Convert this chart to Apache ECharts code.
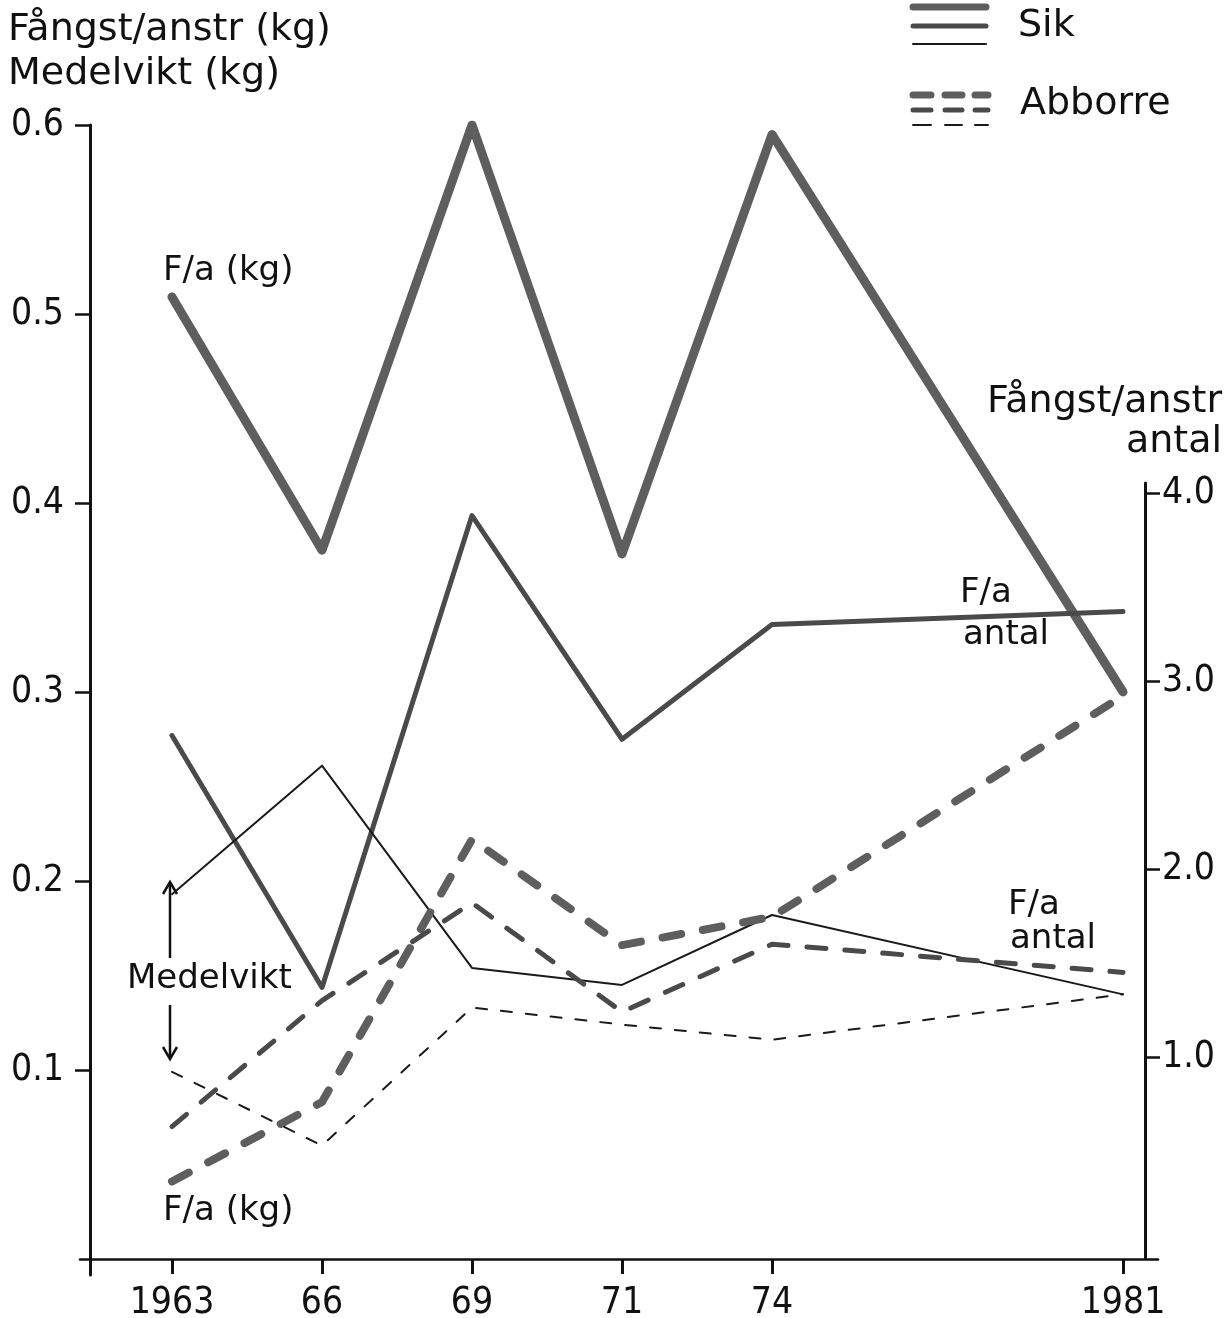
<!DOCTYPE html>
<html>
<head>
<meta charset="utf-8">
<script src="https://cdn.jsdelivr.net/npm/echarts@6/dist/echarts.min.js"></script>
<style>
html,body{margin:0;padding:0;background:#fff;}
#chart{width:1229px;height:1318px;}
</style>
</head>
<body>
<div id="chart"></div>
<script>
// ---- data ----
const categories = ['1963', '66', '69', '71', '74', '1981'];
// spacing of the categories along the original's x axis (1981 is further out)
const xSlots = [0, 1, 2, 3, 4, 6.34];
// Sik (whitefish)
const sikFaKg      = [0.509, 0.375, 0.600, 0.373, 0.595, 0.300]; // left axis, kg
const sikFaAntal   = [2.71, 1.37, 3.88, 2.69, 3.30, 3.37];       // right axis, antal
const sikMedelvikt = [0.193, 0.261, 0.154, 0.145, 0.182, 0.140]; // left axis, kg
// Abborre (perch)
const abbFaKg      = [0.041, 0.083, 0.222, 0.166, 0.181, 0.298];
const abbFaAntal   = [0.63, 1.30, 1.82, 1.24, 1.60, 1.45];
const abbMedelvikt = [0.099, 0.060, 0.133, 0.124, 0.116, 0.140];
// tick labels
const leftTicks  = [0.1, 0.2, 0.3, 0.4, 0.5, 0.6];
const rightTicks = [1, 2, 3, 4];

const pts = arr => categories.map((c, i) => [xSlots[i], arr[i]]);
const INK = '#111';
const labelFont = 'DejaVu Sans Condensed, DejaVu Sans, sans-serif';
const textFont = 'DejaVu Sans, sans-serif';

const chart = echarts.init(document.getElementById('chart'), null, {renderer: 'canvas'});

const xRange1 = {min: (80 - 172) / 150, max: (1158 - 172) / 150};
const xRange2 = {min: (80 - 172) / 150, max: (1145 - 172) / 150};

function lineSeries(name, arr, axis, width, color, dash) {
  return {
    name, type: 'line', data: pts(arr),
    xAxisIndex: axis, yAxisIndex: axis,
    symbol: 'none', silent: true,
    lineStyle: {width, color, type: dash || 'solid', cap: 'round', join: 'round'},
    z: 3
  };
}

function legendDashRow(y, w, color) {
  const segs = [[913, 931], [945, 962], [975, 988]];
  return segs.map(s => ({
    type: 'line', shape: {x1: s[0], y1: y, x2: s[1], y2: y},
    style: {stroke: color, lineWidth: w, lineCap: 'round'}
  }));
}

const option = {
  animation: false,
  backgroundColor: '#fff',
  grid: [
    {left: 80, right: 71, top: 125, bottom: 43, outerBoundsMode: 'none', containLabel: false},
    {left: 80, right: 84, top: 483, bottom: 60, outerBoundsMode: 'none', containLabel: false}
  ],
  xAxis: [
    {
      type: 'value', gridIndex: 0, min: xRange1.min, max: xRange1.max,
      splitLine: {show: false},
      axisLine: {onZero: true, lineStyle: {color: INK, width: 2.5}},
      axisTick: {show: true, inside: false, length: 15, lineStyle: {color: INK, width: 3},
                 customValues: xSlots},
      axisLabel: {
        customValues: xSlots, margin: 10, color: INK, fontSize: 37, fontFamily: labelFont,
        formatter: v => { const i = xSlots.findIndex(s => Math.abs(s - v) < 1e-6); return i >= 0 ? categories[i] : ''; }
      }
    },
    {
      type: 'value', gridIndex: 1, min: xRange2.min, max: xRange2.max, show: false
    }
  ],
  yAxis: [
    {
      type: 'value', gridIndex: 0, position: 'left', offset: -10,
      min: -0.0085, max: 0.6,
      splitLine: {show: false},
      axisLine: {show: true, onZero: false, lineStyle: {color: INK, width: 3}},
      axisTick: {show: true, length: 15, lineStyle: {color: INK, width: 2.5}, customValues: leftTicks},
      axisLabel: {customValues: leftTicks, margin: 26, color: INK, fontSize: 37, fontFamily: labelFont,
                  formatter: v => v.toFixed(1)}
    },
    {
      type: 'value', gridIndex: 1, position: 'right',
      min: -0.069, max: 4.053,
      splitLine: {show: false},
      axisLine: {show: true, onZero: false, lineStyle: {color: INK, width: 3}},
      axisTick: {show: true, length: 15, lineStyle: {color: INK, width: 2.5}, customValues: rightTicks},
      axisLabel: {customValues: rightTicks, margin: 17, color: INK, fontSize: 37, fontFamily: labelFont,
                  formatter: v => v.toFixed(1)}
    }
  ],
  series: [
    lineSeries('Sik F/a (kg)', sikFaKg, 0, 9, '#5e5e5e'),
    lineSeries('Sik F/a antal', sikFaAntal, 1, 5, '#4a4a4a'),
    lineSeries('Sik Medelvikt', sikMedelvikt, 0, 2, '#1a1a1a'),
    lineSeries('Abborre F/a (kg)', abbFaKg, 0, 8, '#5e5e5e', [19, 22]),
    lineSeries('Abborre F/a antal', abbFaAntal, 1, 5, '#4a4a4a', [19, 19]),
    lineSeries('Abborre Medelvikt', abbMedelvikt, 0, 2, '#1a1a1a', [11, 14])
  ],
  graphic: [
    // axis titles
    {type: 'text', left: 8, top: 11, style: {text: 'Fångst/anstr (kg)', font: '38px ' + textFont, fill: INK}},
    {type: 'text', left: 8, top: 55, style: {text: 'Medelvikt (kg)', font: '38px ' + textFont, fill: INK}},
    {type: 'text', x: 1222, y: 383, style: {text: 'Fångst/anstr', font: '38px ' + textFont, fill: INK, align: 'right'}},
    {type: 'text', x: 1222, y: 423, style: {text: 'antal', font: '38px ' + textFont, fill: INK, align: 'right'}},
    // legend
    {type: 'line', shape: {x1: 913, y1: 7, x2: 986, y2: 7}, style: {stroke: '#5e5e5e', lineWidth: 7, lineCap: 'round'}},
    {type: 'line', shape: {x1: 913, y1: 26, x2: 986, y2: 26}, style: {stroke: '#4a4a4a', lineWidth: 5, lineCap: 'round'}},
    {type: 'line', shape: {x1: 913, y1: 44, x2: 986, y2: 44}, style: {stroke: '#1a1a1a', lineWidth: 2, lineCap: 'round'}},
    {type: 'text', left: 1018, top: 7, style: {text: 'Sik', font: '38px ' + textFont, fill: INK}},
    ...legendDashRow(95, 7, '#5e5e5e'),
    ...legendDashRow(110, 5, '#4a4a4a'),
    ...legendDashRow(125, 2, '#1a1a1a'),
    {type: 'text', left: 1020, top: 85, style: {text: 'Abborre', font: '38px ' + textFont, fill: INK}},
    // annotations
    {type: 'text', left: 163, top: 254, style: {text: 'F/a (kg)', font: '34px ' + textFont, fill: INK}},
    {type: 'text', left: 960, top: 576, style: {text: 'F/a', font: '34px ' + textFont, fill: INK}},
    {type: 'text', left: 963, top: 618, style: {text: 'antal', font: '34px ' + textFont, fill: INK}},
    {type: 'text', left: 1008, top: 888, style: {text: 'F/a', font: '34px ' + textFont, fill: INK}},
    {type: 'text', left: 1010, top: 922, style: {text: 'antal', font: '34px ' + textFont, fill: INK}},
    {type: 'text', left: 127, top: 962, style: {text: 'Medelvikt', font: '34px ' + textFont, fill: INK}},
    {type: 'text', left: 163, top: 1194, style: {text: 'F/a (kg)', font: '34px ' + textFont, fill: INK}},
    // Medelvikt arrows
    {type: 'line', shape: {x1: 170, y1: 958, x2: 170, y2: 883}, style: {stroke: INK, lineWidth: 2.5}},
    {type: 'polyline', shape: {points: [[163, 894], [170, 882], [177, 894]]}, style: {stroke: INK, lineWidth: 2.5, fill: null}},
    {type: 'line', shape: {x1: 170, y1: 1005, x2: 170, y2: 1058}, style: {stroke: INK, lineWidth: 2.5}},
    {type: 'polyline', shape: {points: [[163, 1047], [170, 1059], [177, 1047]]}, style: {stroke: INK, lineWidth: 2.5, fill: null}}
  ]
};
chart.setOption(option);
</script>
</body>
</html>
